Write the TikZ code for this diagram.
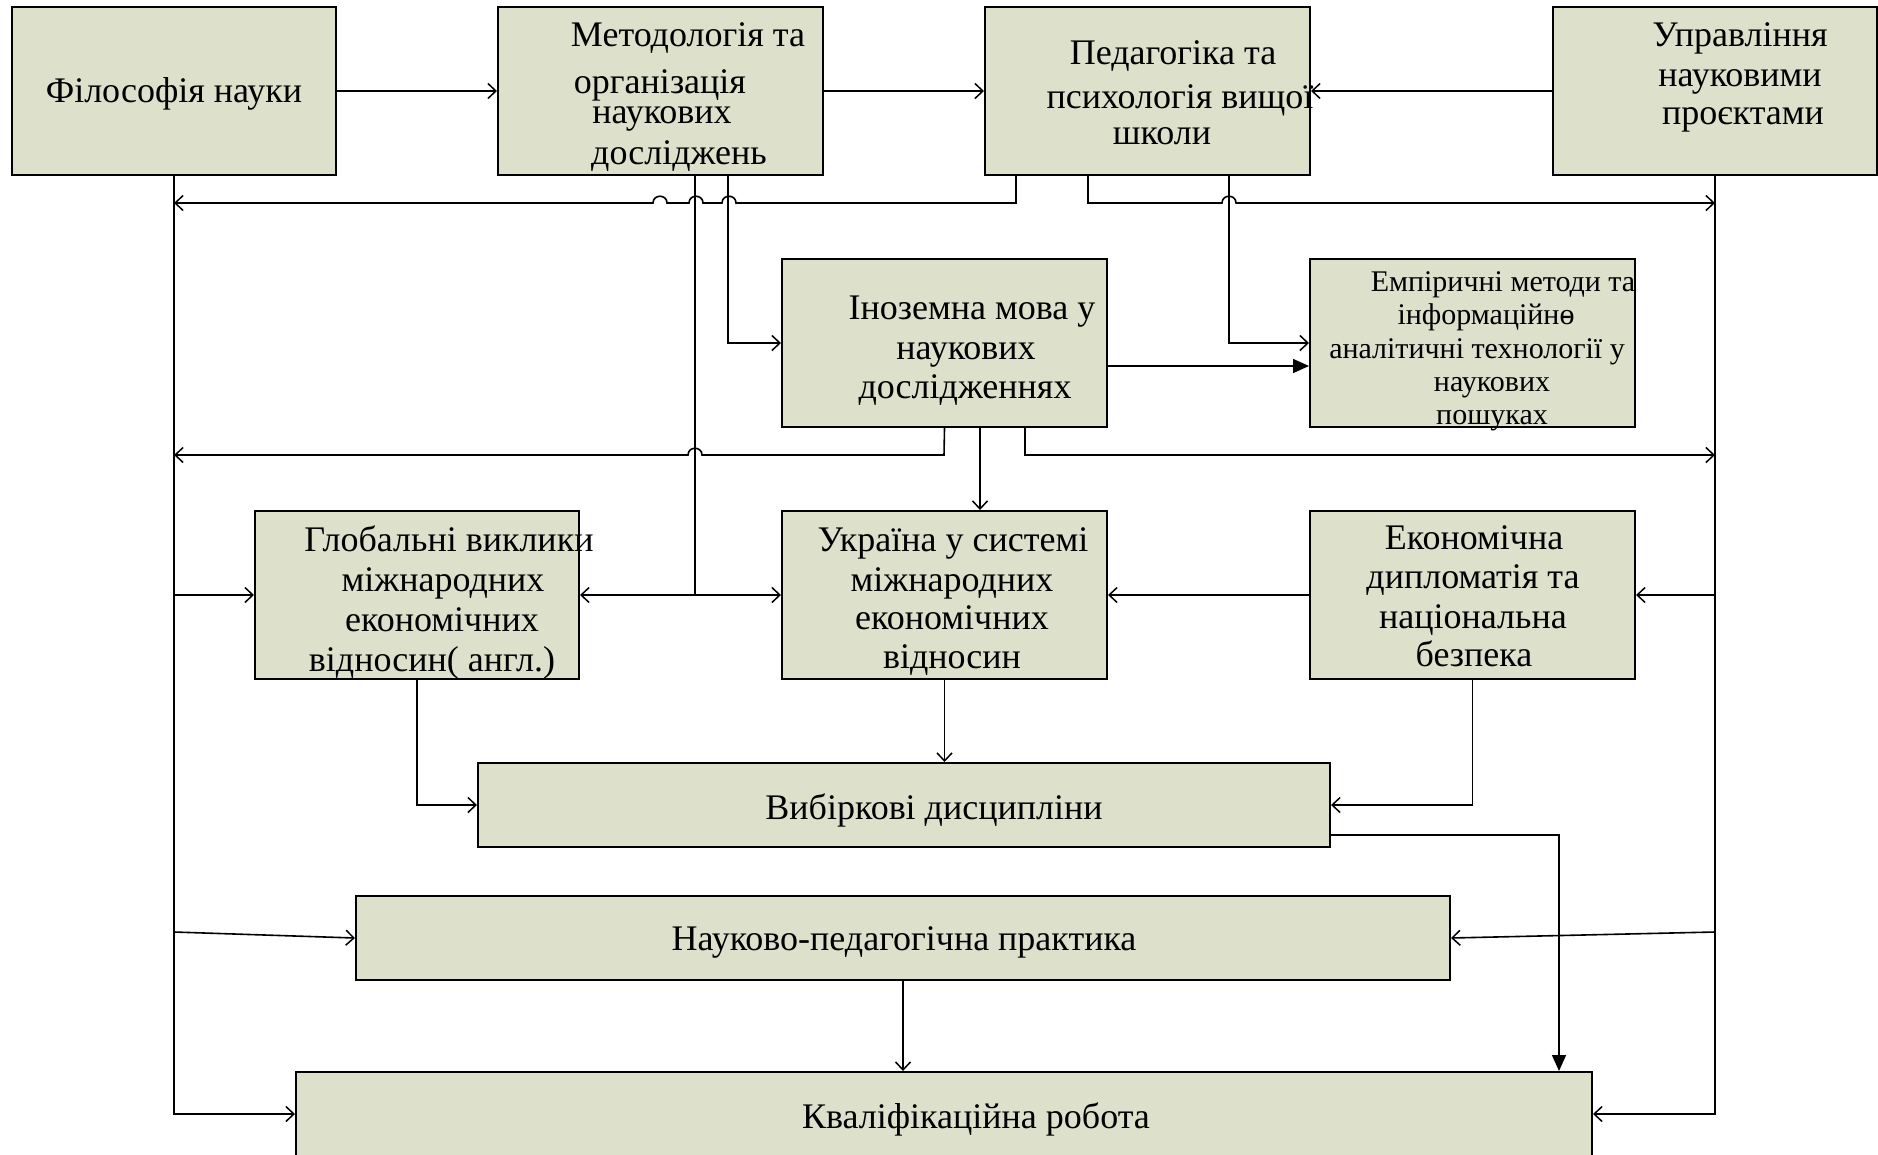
\documentclass[tikz,border=0pt]{standalone}
\usepackage{fontspec}
\setmainfont{Liberation Serif}
\usetikzlibrary{arrows.meta}
\definecolor{boxfill}{RGB}{221,225,203}
\begin{document}
\begin{tikzpicture}[x=1pt,y=-1pt,
  box/.style={draw=black,line width=2pt,fill=boxfill,inner sep=0pt,minimum height=168pt,minimum width=325pt},
  wbox/.style={box,minimum height=84pt},
  txt/.style={anchor=mid,inner sep=0pt,yshift=-9pt,font=\fontsize{36}{42}\selectfont},
  stxt/.style={anchor=mid,inner sep=0pt,yshift=-9pt,font=\fontsize{30}{34}\selectfont},
  conn/.style={line width=1.6pt},
  arr/.style={conn,-{Straight Barb[length=8pt,width=15pt,line width=1.5pt]}},
  farr/.style={conn,-{Triangle[length=16pt,width=14pt]}}]
\clip (0,0) rectangle (1878,1154);
\fill[white] (0,0) rectangle (1878,1154);
% boxes
\node[box,minimum width=324pt] (fil) at (174,91) {};
\node[box] (met) at (660.5,91) {};
\node[box] (ped) at (1147.5,91) {};
\node[box,minimum width=324pt] (upr) at (1715,91) {};
\node[box] (ino) at (944.5,343) {};
\node[box] (emp) at (1472.5,343) {};
\node[box,minimum width=324pt] (glo) at (417,595) {};
\node[box] (ukr) at (944.5,595) {};
\node[box] (eko) at (1472.5,595) {};
\node[wbox,minimum width=852pt] (vyb) at (904,805) {};
\node[wbox,minimum width=1094pt] (nauk) at (903,938) {};
\node[box,minimum width=1296pt,minimum height=103pt] (kval) at (944,1123.5) {};
% texts
\node[txt] (fil1) at (174,91) {Філософія науки};
\node[txt] (met1) at (688,35) {Методологія та};
\node[txt] (met2) at (660,82) {організація};
\node[txt] (met3) at (662,112) {наукових};
\node[txt] (met4) at (679,153) {досліджень};
\node[txt] (ped1) at (1173,53) {Педагогіка та};
\node[txt] (ped2) at (1180,97) {психологія вищої};
\node[txt] (ped3) at (1162,133) {школи};
\node[txt] (upr1) at (1740,35) {Управління};
\node[txt] (upr2) at (1740,75) {науковими};
\node[txt] (upr3) at (1743,113) {проєктами};
\node[txt] (ino1) at (972,308) {Іноземна мова у};
\node[txt] (ino2) at (966,348) {наукових};
\node[txt] (ino3) at (965,387) {дослідженнях};
\node[stxt] (emp1) at (1503,280) {Емпіричні методи та};
\node[stxt] (emp2) at (1486,313) {інформаційн\rlap{\hbox to 0.5em{\hss-\hss}}о};
\node[stxt] (emp3) at (1477,347) {аналітичні технології у};
\node[stxt] (emp4) at (1492,380) {наукових};
\node[stxt] (emp5) at (1492,413) {пошуках};
\node[txt] (glo1) at (449,540) {Глобальні виклики};
\node[txt] (glo2) at (443,580) {міжнародних};
\node[txt] (glo3) at (442,620) {економічних};
\node[txt] (glo4) at (432,660) {відносин( англ.)};
\node[txt] (ukr1) at (953,540) {Україна у системі};
\node[txt] (ukr2) at (952,580) {міжнародних};
\node[txt] (ukr3) at (952,618) {економічних};
\node[txt] (ukr4) at (952,657) {відносин};
\node[txt] (eko1) at (1474,538) {Економічна};
\node[txt] (eko2) at (1473,577) {дипломатія та};
\node[txt] (eko3) at (1473,617) {національна};
\node[txt] (eko4) at (1474,655) {безпека};
\node[txt] (vyb1) at (934,808) {Вибіркові дисципліни};
\node[txt] (nauk1) at (904,939) {Науково-педагогічна практика};
\node[txt] (kval1) at (976,1117) {Кваліфікаційна робота};
% top row
\draw[arr] (fil.east) -- (met.west);
\draw[arr] (met.east) -- (ped.west);
\draw[arr] (upr.west) -- (ped.east);
% buses
\draw[arr] (fil.south) |- (kval.west |- 0,1114);
\draw[arr] (upr.south) |- (kval.east |- 0,1114);
\draw[arr] (fil.south |- glo.west) -- (glo.west);
\draw[arr] (upr.south |- eko.east) -- (eko.east);
\draw[arr] (fil.south |- 0,932) -- (nauk.west);
\draw[arr] (upr.south |- 0,932) -- (nauk.east);
% from ped
\draw[arr] (1016,0 |- ped.south) -- (1016,203) -- (736,203) .. controls (736,194) and (722,194) .. (722,203) -- (703,203) .. controls (703,194) and (689,194) .. (689,203) -- (667,203) .. controls (667,194) and (653,194) .. (653,203) -- (fil.south |- 0,203);
\draw[arr] (1088,0 |- ped.south) -- (1088,203) -- (1222,203) .. controls (1222,194) and (1236,194) .. (1236,203) -- (upr.south |- 0,203);
\draw[arr] (1229,0 |- ped.south) |- (emp.west);
% from met
\draw[arr] (728,0 |- met.south) |- (ino.west);
\draw[arr] (695,0 |- met.south) |- (glo.east);
\draw[arr] (695,0 |- ukr.west) -- (ukr.west);
% from ino
\draw[farr] (ino.east |- 0,366) -- (emp.west |- 0,366);
\draw[arr] (ino.south) -- (944,455) -- (702,455) .. controls (702,446) and (688,446) .. (688,455) -- (fil.south |- 0,455);
\draw[arr] (980,0 |- ino.south) -- (980,0 |- ukr.north);
\draw[arr] (1025,0 |- ino.south) |- (upr.south |- 0,455);
% middle row
\draw[arr] (eko.west) -- (ukr.east);
\draw[arr] (glo.south) |- (vyb.west);
\draw[arr] (ukr.south) -- (ukr.south |- vyb.north);
\draw[arr] (eko.south) |- (vyb.east);
% to bottom
\draw[farr] (vyb.east |- 0,835) -| (1559,0 |- kval.north);
\draw[arr] (nauk.south) -- (nauk.south |- kval.north);
\end{tikzpicture}
\end{document}
